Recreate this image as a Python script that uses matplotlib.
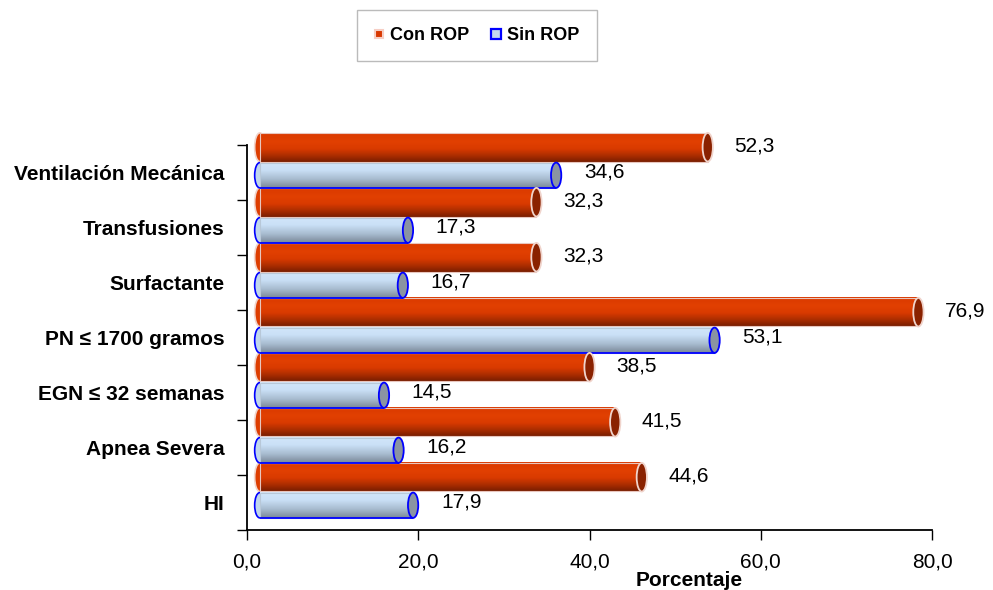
import numpy as np
import matplotlib
matplotlib.use("Agg")
import matplotlib.pyplot as plt
from matplotlib.colors import LinearSegmentedColormap
from matplotlib.patches import Ellipse, Rectangle
from matplotlib.lines import Line2D

CATEGORIES = ["HI", "Apnea Severa", "EGN \u2264 32 semanas", "PN \u2264 1700 gramos",
			"Surfactante", "Transfusiones", "Ventilación Mecánica"]
CON_ROP = [44.6, 41.5, 38.5, 76.9, 32.3, 32.3, 52.3]
SIN_ROP = [17.9, 16.2, 14.5, 53.1, 16.7, 17.3, 34.6]
XTICKS = [0, 20, 40, 60, 80]

DEPTH_X = 1.5     # 3d offset of the cylinders (data units)
CAP_W = 1.2

plt.rcParams["font.family"] = ["Liberation Sans", "DejaVu Sans"]

RED_CMAP = LinearSegmentedColormap.from_list("red", [(0.0, "#7A1E00"), (0.2, "#A82C00"),
			(0.45, "#D83A00"), (0.7, "#E24002"), (1.0, "#DA3A00")])
BLUE_CMAP = LinearSegmentedColormap.from_list("blue", [(0.0, "#7A8898"), (0.35, "#A8BCD0"),
			(0.7, "#CAE0F6"), (1.0, "#D2E6FA")])


def Cylinder(ax, x0, length, y0, h, cmap, edge, capface, capedge, bottomline):
	# left rounded end (only its left half shows)
	ax.add_patch(Ellipse((x0, y0 + h / 2), CAP_W, h, facecolor=cmap(0.6), edgecolor=capedge,
			lw=1.2, zorder=2, clip_on=False))
	grad = np.linspace(0, 1, 80).reshape(-1, 1)
	ax.imshow(grad, cmap=cmap, extent=[x0, x0 + length, y0, y0 + h], origin="lower",
			aspect="auto", interpolation="bilinear", zorder=3, clip_on=False)
	ax.add_patch(Rectangle((x0, y0), length, h, fill=False, edgecolor=edge, lw=0.8,
			zorder=3.5, clip_on=False))
	if bottomline:
		ax.plot([x0, x0 + length], [y0, y0], color=capedge, lw=1.3, zorder=3.6,
				clip_on=False, solid_capstyle="butt")
	ax.add_patch(Ellipse((x0 + length, y0 + h / 2), CAP_W, h, facecolor=capface,
			edgecolor=capedge, lw=1.3, zorder=4, clip_on=False))


def Main():
	fig = plt.figure(figsize=(9.93, 5.90), dpi=100)
	ax = fig.add_axes([0.2487, 0.1017, 0.690, 0.6805])

	for i in range(len(CATEGORIES)):
		Cylinder(ax, DEPTH_X, CON_ROP[i], i + 0.2, 0.52, RED_CMAP, "#E8C6BE",
				"#8A2200", "#F0D4CC", False)
		Cylinder(ax, DEPTH_X, SIN_ROP[i], i - 0.28, 0.46, BLUE_CMAP, "#B8C8D8",
				"#8A94A2", "#0000FF", True)
		ax.annotate(("%.1f" % CON_ROP[i]).replace(".", ","), (DEPTH_X + CON_ROP[i], i + 0.46),
				xytext=(19, 1), textcoords="offset points", ha="left", va="center",
				fontsize=15, annotation_clip=False)
		ax.annotate(("%.1f" % SIN_ROP[i]).replace(".", ","), (DEPTH_X + SIN_ROP[i], i - 0.05),
				xytext=(20, 2), textcoords="offset points", ha="left", va="center",
				fontsize=15, annotation_clip=False)

	ax.set_xlim(0, 80)
	ax.set_ylim(-0.5, 6.8)

	ax.spines["top"].set_visible(False)
	ax.spines["right"].set_visible(False)
	ax.spines["left"].set_bounds(-0.5, 6.5)
	ax.spines["left"].set_linewidth(1.3)
	ax.spines["bottom"].set_linewidth(1.3)

	ax.set_xticks(XTICKS)
	ax.set_xticklabels([("%.1f" % t).replace(".", ",") for t in XTICKS], fontsize=15)
	ax.tick_params(axis="x", direction="out", length=7, width=1, pad=9)

	ax.set_yticks(np.arange(-0.5, len(CATEGORIES), 1.0))
	ax.set_yticklabels([])
	ax.tick_params(axis="y", which="major", direction="out", length=7, width=1)
	ax.set_yticks(np.arange(len(CATEGORIES)), minor=True)
	ax.set_yticklabels(CATEGORIES, minor=True, fontsize=15, fontweight="bold")
	ax.tick_params(axis="y", which="minor", length=0, pad=16)

	fig.text(0.694, 0.0, "Porcentaje", ha="center", va="bottom", fontsize=15, fontweight="bold")

	handles = [Line2D([], [], ls="", marker="s", markersize=6, markerfacecolor="#D83800",
				markeredgecolor="#F6CEC4", markeredgewidth=1.5),
			Line2D([], [], ls="", marker="s", markersize=7, markerfacecolor="#C4D8EE",
				markeredgecolor="#0000FF", markeredgewidth=1.6)]
	leg = fig.legend(handles, ["Con ROP", "Sin ROP"], loc="center", bbox_to_anchor=(0.48, 0.94),
			ncol=2, fancybox=False, edgecolor="#BBBBBB", framealpha=1,
			prop={"size": 13, "weight": "bold"}, handlelength=0.6, handletextpad=0.3,
			columnspacing=1.2, borderpad=0.95)
	leg.get_frame().set_linewidth(1.0)

	fig.savefig("out.png", dpi=100)
	plt.close(fig)


if __name__ == "__main__":
	Main()
